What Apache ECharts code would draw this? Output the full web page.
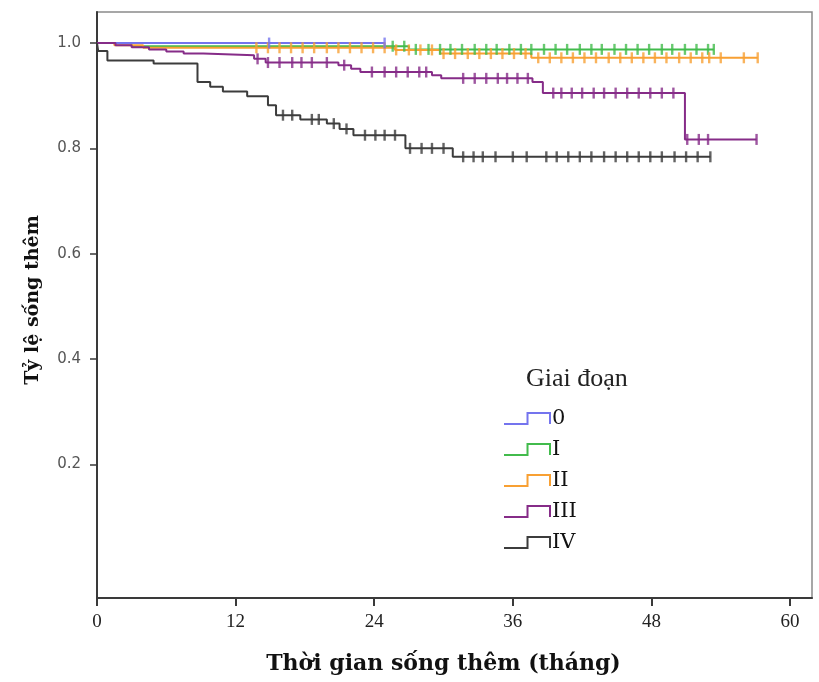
<!DOCTYPE html>
<html>
<head>
<meta charset="utf-8">
<script src="https://cdn.jsdelivr.net/npm/echarts@6/dist/echarts.min.js"></script>
<style>
  html, body { margin: 0; padding: 0; background: #ffffff; }
  #chart { width: 819px; height: 682px; }
</style>
</head>
<body>
<div id="chart"></div>
<script>
// Kaplan–Meier survival by stage ("Giai đoạn")
const groupNames = ['0', 'I', 'II', 'III', 'IV'];
const groupColors = ['#7474ee', '#42bb4c', '#f8a033', '#862c88', '#3c3c3c'];

// Event times (months) and survival proportion right after each event
const eventTimes0 = [];
const survival0 = [];
const censorTimes0 = [14.9, 24.9];

const eventTimes1 = [3.0, 27.0];
const survival1 = [0.994, 0.988];
const censorTimes1 = [25.6, 26.6, 27.6, 28.7, 29.7, 30.6, 31.6, 32.7, 33.7, 34.6, 35.7, 36.7, 37.6,
  38.7, 39.7, 40.7, 41.8, 42.8, 43.7, 44.8, 45.8, 46.8, 47.8, 48.9, 49.8, 50.9, 51.9, 52.9, 53.4];

const eventTimes2 = [1.5, 4.0, 25.8, 29.7, 37.6];
const survival2 = [0.996, 0.991, 0.987, 0.980, 0.972];
const censorTimes2 = [13.8, 14.8, 15.8, 16.8, 17.8, 18.8, 19.9, 20.9, 21.9, 22.9, 23.9, 24.9, 25.9,
  27.0, 28.0, 29.0, 30.0, 31.0, 32.1, 33.1, 34.1, 35.1, 36.1, 37.1, 38.2, 39.2, 40.2, 41.2, 42.2,
  43.2, 44.3, 45.3, 46.3, 47.3, 48.3, 49.3, 50.4, 51.4, 52.4, 53.0, 54.0, 56.0, 57.2];

const eventTimes3 = [1.6, 3.0, 4.5, 6.0, 7.5, 9.2, 13.6, 14.6, 20.9, 22.0, 22.8, 29.0, 29.8, 37.7, 38.6, 50.9];
const survival3 = [0.996, 0.992, 0.988, 0.984, 0.980, 0.977, 0.970, 0.963, 0.958, 0.951, 0.945,
  0.939, 0.933, 0.926, 0.905, 0.817];
const censorTimes3 = [13.9, 14.8, 15.8, 16.9, 17.7, 18.6, 19.9, 21.4, 23.8, 24.9, 25.9, 26.9, 27.9,
  28.5, 31.7, 32.7, 33.7, 34.7, 35.5, 36.4, 37.3, 39.5, 40.2, 41.1, 42.0, 43.0, 43.9, 44.9, 45.9,
  46.9, 47.9, 48.9, 49.9, 51.1, 52.1, 52.9, 57.1];

const eventTimes4 = [0.1, 0.9, 4.9, 8.7, 9.8, 10.9, 13.0, 14.8, 15.5, 17.6, 19.9, 21.0, 22.2, 26.7, 30.8];
const survival4 = [0.985, 0.967, 0.961, 0.926, 0.917, 0.908, 0.899, 0.882, 0.863, 0.855, 0.847,
  0.837, 0.825, 0.800, 0.784];
const censorTimes4 = [16.1, 16.9, 18.6, 19.2, 20.5, 21.6, 23.2, 24.1, 24.9, 25.8, 27.1, 28.1, 29.0,
  30.0, 31.7, 32.6, 33.4, 34.5, 36.0, 37.2, 38.9, 39.8, 40.8, 41.8, 42.8, 43.9, 44.9, 45.9, 46.9,
  47.9, 48.9, 50.0, 51.0, 52.0, 53.1];

// Axis tick labels
const xTickStep = 12;
const yLabelValues = [0.2, 0.4, 0.6, 0.8, 1.0];

const eventTimes = [eventTimes0, eventTimes1, eventTimes2, eventTimes3, eventTimes4];
const survivals = [survival0, survival1, survival2, survival3, survival4];
const censorTimes = [censorTimes0, censorTimes1, censorTimes2, censorTimes3, censorTimes4];

function survivalAt(times, surv, t) {
  let s = 1;
  for (let i = 0; i < times.length; i++) {
    if (times[i] <= t) s = surv[i];
  }
  return s;
}

function stepCurve(times, surv, cens) {
  const pts = [[0, 1]];
  times.forEach((t, i) => pts.push([t, surv[i]]));
  const lastT = Math.max(...cens, ...times);
  pts.push([lastT, survivalAt(times, surv, lastT)]);
  return pts;
}

const drawOrder = [1, 2, 0, 3, 4];
const series = [];
drawOrder.forEach((g) => {
  series.push({
    name: groupNames[g],
    type: 'line',
    step: 'end',
    data: stepCurve(eventTimes[g], survivals[g], censorTimes[g]),
    showSymbol: false,
    lineStyle: { color: groupColors[g], width: 2 },
    itemStyle: { color: groupColors[g] },
    silent: true,
    z: 2
  });
  series.push({
    name: groupNames[g],
    type: 'scatter',
    data: censorTimes[g].map((t) => [t, survivalAt(eventTimes[g], survivals[g], t)]),
    symbol: 'rect',
    symbolSize: [2.4, 11],
    itemStyle: { color: groupColors[g] },
    silent: true,
    z: 3
  });
});

// Step-shaped legend keys, stroked in each group's colour
const legendItems = groupNames.map((name, i) => ({
  name: name,
  icon: 'path://M0,12L23,12L23,1L45,1L45,12',
  itemStyle: { color: 'rgba(0,0,0,0)', borderColor: groupColors[i], borderWidth: 2 }
}));

const chart = echarts.init(document.getElementById('chart'));
chart.setOption({
  animation: false,
  backgroundColor: '#ffffff',
  grid: {
    left: 97, right: 7, top: 12, bottom: 84,
    show: true, borderColor: '#8a8a8a', borderWidth: 1.5, backgroundColor: 'transparent'
  },
  title: {
    text: 'Giai đoạn',
    left: 526, top: 366,
    padding: 0,
    textStyle: { fontFamily: 'Liberation Serif', fontWeight: 'normal', fontSize: 26, color: '#222222' }
  },
  legend: {
    orient: 'vertical',
    left: 503, top: 403,
    padding: 0,
    itemGap: 0,
    itemWidth: 46, itemHeight: 12,
    textStyle: { fontFamily: 'DejaVu Serif', fontSize: 21, color: '#111111', lineHeight: 31, padding: [0, 0, 0, -3] },
    data: legendItems,
    selectedMode: false
  },
  xAxis: {
    type: 'value',
    min: 0, max: 61.9, interval: xTickStep,
    name: 'Thời gian sống thêm (tháng)',
    nameLocation: 'middle',
    nameGap: 55,
    nameTextStyle: { fontFamily: 'DejaVu Serif', fontWeight: 'bold', fontSize: 22, color: '#111111', padding: [0, 22, 0, 0] },
    axisLine: { show: true, onZero: false, lineStyle: { color: '#3a3a3a', width: 2 } },
    axisTick: { show: true, length: 8, lineStyle: { color: '#3a3a3a', width: 2 } },
    axisLabel: { fontFamily: 'Liberation Serif', fontSize: 19, color: '#222222', margin: 15 },
    splitLine: { show: false }
  },
  yAxis: {
    type: 'value',
    min: -0.054, max: 1.059,
    name: 'Tỷ lệ sống thêm',
    nameLocation: 'middle',
    nameGap: 54,
    nameTextStyle: { fontFamily: 'DejaVu Serif', fontWeight: 'bold', fontSize: 19, color: '#111111', padding: [0, 0, 0, 10] },
    axisLine: { show: true, onZero: false, lineStyle: { color: '#3a3a3a', width: 2 } },
    axisTick: { show: true, length: 7, customValues: yLabelValues, lineStyle: { color: '#3a3a3a', width: 1.5 } },
    axisLabel: {
      customValues: yLabelValues,
      fontFamily: 'DejaVu Sans', fontSize: 15, color: '#555555', margin: 16,
      formatter: (v) => v.toFixed(1)
    },
    splitLine: { show: false }
  },
  series: series
});
</script>
</body>
</html>
